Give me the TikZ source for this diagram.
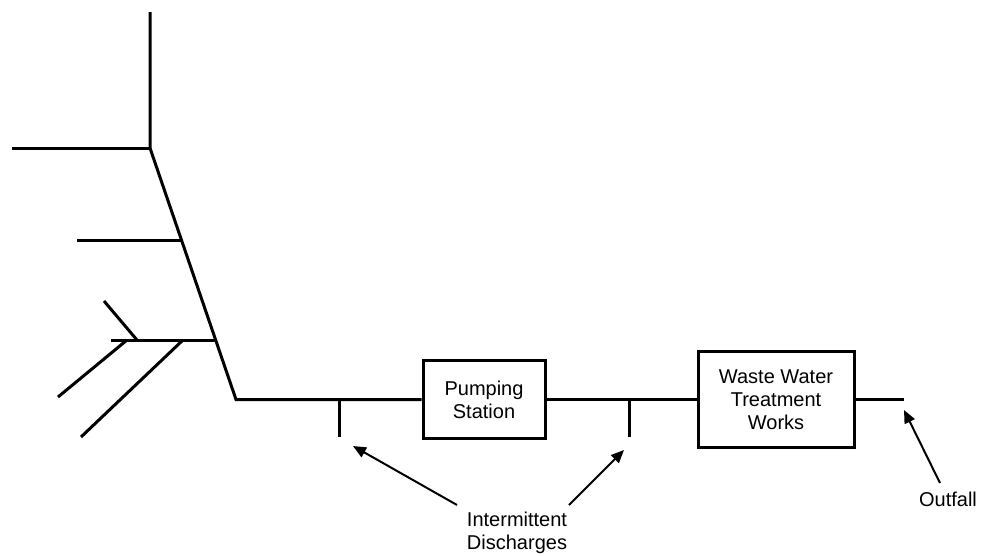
\documentclass[tikz,border=0pt]{standalone}
\usepackage{fontspec}
\setmainfont{Liberation Sans}
\usetikzlibrary{arrows.meta}
\begin{document}
\begin{tikzpicture}[x=1pt,y=-1pt,
  pipe/.style={line width=3pt,line join=miter},
  unitbox/.style={draw,line width=3pt,align=center,inner sep=0pt,font=\fontsize{20}{23}\selectfont},
  lbl/.style={align=center,inner sep=0pt,font=\fontsize{20}{23}\selectfont},
  pointer/.style={line width=2pt,-{Triangle[length=13pt,width=11pt]}}]
\useasboundingbox (0,0) rectangle (981,555);
% collector network
\coordinate (top) at (150,12);
\coordinate (j1) at (150,148);
\coordinate (w1) at (12,148);
\coordinate (j2) at (181.5,240);
\coordinate (w2) at (77,240);
\coordinate (j3) at (215.8,340);
\coordinate (w3) at (111,340);
\coordinate (corner) at (236,399.5);
\coordinate (a1) at (137,340);
\coordinate (a1e) at (104,301);
\coordinate (b1) at (127,340);
\coordinate (b1e) at (58,397);
\coordinate (c1) at (183,340);
\coordinate (c1e) at (81,437);
% units
\node[unitbox,minimum width=122pt,minimum height=78pt] (ps) at (484,399.5) {Pumping\\Station};
\node[unitbox,minimum width=156pt,minimum height=96pt] (wwtw) at (776,399.5) {Waste Water\\Treatment\\Works};
% discharge points
\coordinate (d1) at (339,399.5);
\coordinate (d1e) at (339,437);
\coordinate (d2) at (629,399.5);
\coordinate (d2e) at (629,437);
\coordinate (of) at (904,399.5);
% pipes
\draw[pipe] (top) -- (j1) -- (corner) -- (ps.west);
\draw[pipe] (w1) -- (j1);
\draw[pipe] (w2) -- (j2);
\draw[pipe] (w3) -- (j3);
\draw[pipe] (a1e) -- (a1);
\draw[pipe] (b1e) -- (b1);
\draw[pipe] (c1e) -- (c1);
\draw[pipe] (d1) -- (d1e);
\draw[pipe] (ps.east) -- (wwtw.west);
\draw[pipe] (d2) -- (d2e);
\draw[pipe] (wwtw.east) -- (of);
% labels
\node[lbl] (idis) at (517,533) {Intermittent\\Discharges};
\node[lbl] (outl) at (948,499) {Outfall};
\coordinate (t1) at (457,505);
\coordinate (h1) at (353,446);
\coordinate (t2) at (569,505);
\coordinate (h2) at (624,450);
\coordinate (t3) at (940,483);
\coordinate (h3) at (904,410);
\draw[pointer] (t1) -- (h1);
\draw[pointer] (t2) -- (h2);
\draw[pointer] (t3) -- (h3);
\end{tikzpicture}
\end{document}
